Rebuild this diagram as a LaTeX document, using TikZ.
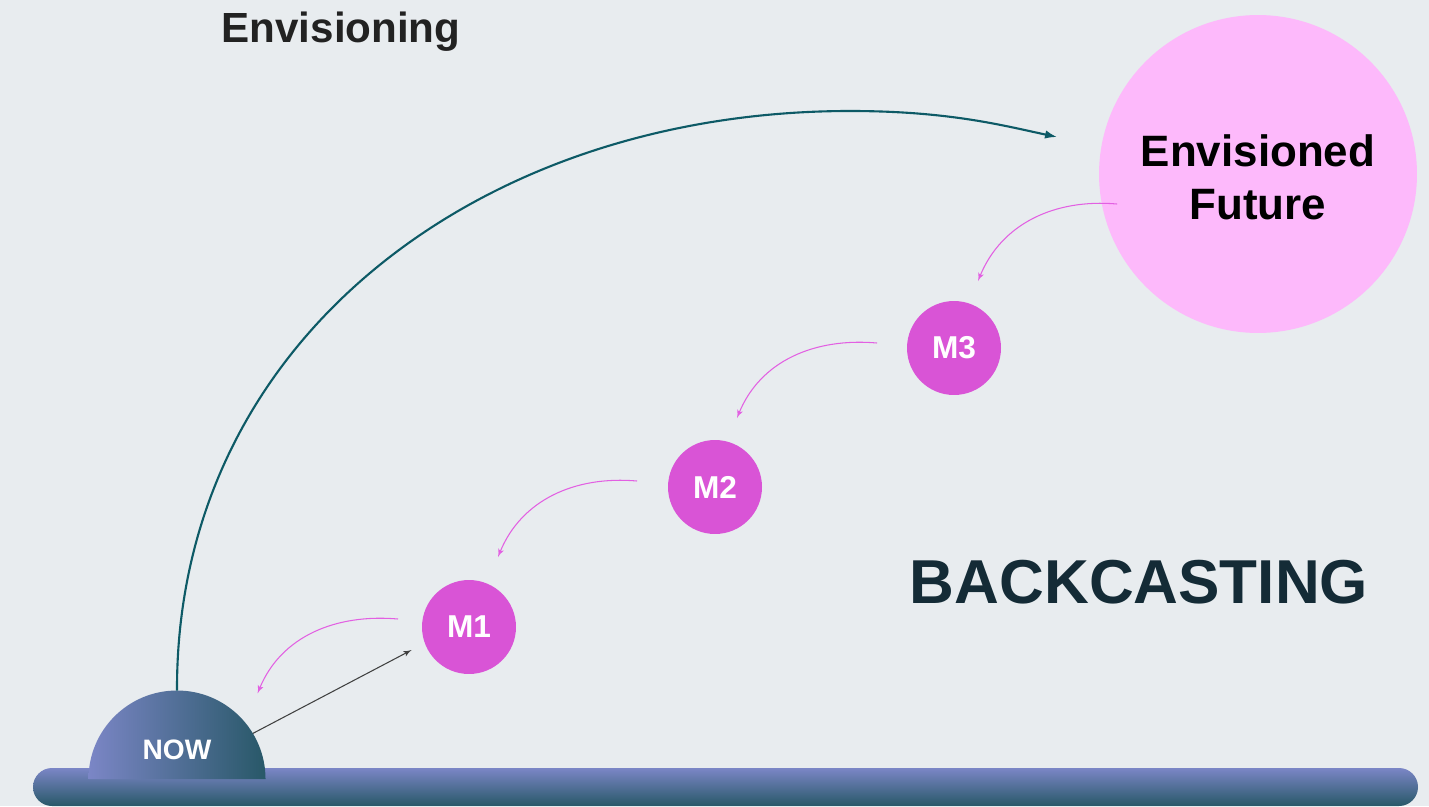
\documentclass[tikz,border=0pt]{standalone}
\usepackage{fontspec}
\setmainfont{Liberation Sans}
\usetikzlibrary{arrows,arrows.meta}
\definecolor{canvas}{RGB}{232,236,239}
\definecolor{barTop}{RGB}{123,134,198}
\definecolor{barBottom}{RGB}{40,88,104}
\definecolor{futureFill}{RGB}{253,185,251}
\definecolor{milestoneFill}{RGB}{217,84,214}
\definecolor{backPink}{RGB}{226,96,226}
\definecolor{envisionTeal}{RGB}{13,90,102}
\definecolor{titleInk}{RGB}{34,34,34}
\definecolor{backcastInk}{RGB}{20,43,54}

\begin{document}
\begin{tikzpicture}[ x=0.02cm, y=0.02cm, thick,
  milestone/.style={circle, fill=milestoneFill, text=white, inner sep=0pt, outer sep=0pt,
    minimum size=1.88cm, font=\fontsize{18}{20}\selectfont\bfseries},
  future/.style={circle, fill=futureFill, inner sep=0pt, outer sep=0pt, minimum size=6.36cm},
  future text/.style={text width=5.6cm, align=center, font=\fontsize{25}{30}\selectfont\bfseries},
  line/.style={draw, -latex'},
  back/.style={line, draw=backPink, line width=0.6pt},
  envision/.style={draw=envisionTeal, line width=1.2pt, -{Latex[length=0.24cm, width=0.17cm]}},
  ]

  \fill[canvas] (0,0) rectangle (1429,806);
  \useasboundingbox (0,0) rectangle (1429,806);

  % timeline and the present
  \shade[top color=barTop, bottom color=barBottom, rounded corners=0.38cm] (33,0) rectangle (1418,38);
  \node (now) [circle, inner sep=0pt, outer sep=0pt, minimum size=3.54cm] at (177,27) {};
  \shade[left color=barTop, right color=barBottom] (now.west) arc[start angle=180, end angle=0, radius=88.5] -- cycle;
  \node (now label) [text=white, font=\fontsize{16}{18}\selectfont\bfseries] at (177,56) {NOW};

  \node (envisioned future) [future] at (1258,632) {};
  \node (future label) [future text] at (1258,629) {Envisioned\\Future};
  \node (m3) [milestone] at (954,458) {M3};
  \node (m2) [milestone] at (715,319) {M2};
  \node (m1) [milestone] at (469,179) {M1};

  \node (envisioning) [text=titleInk, font=\fontsize{24}{28}\selectfont\bfseries] at (341,774) {Envisioning};
  \node (backcasting) [text=backcastInk, font=\fontsize{35.3}{40}\selectfont\bfseries] at (1139,224) {BACKCASTING};

  \coordinate (future in) at ([shift={(-42,37)}]envisioned future.west);

  % special edges:
  \path[envision] (now.north) .. controls (176,466) and (480,695) .. (850,695)
    .. controls (950,695) and (1005,680) .. (future in);
  \path[line, draw=black!75, line width=0.6pt, shorten >=0.3cm] (now.31) -- (m1.200);
  \path[back] ([shift={(18,-30)}]envisioned future.west) to[out=175, in=68] ([shift={(24,20)}]m3.north);
  \path[back] ([shift={(-30,5)}]m3.west) to[out=175, in=68] ([shift={(22,22)}]m2.north);
  \path[back] ([shift={(-31,6)}]m2.west) to[out=175, in=68] ([shift={(29,23)}]m1.north);
  \path[back] ([shift={(-24,8)}]m1.west) to[out=175, in=68] ([shift={(18,23)}]now.north east);
\end{tikzpicture}
\end{document}
